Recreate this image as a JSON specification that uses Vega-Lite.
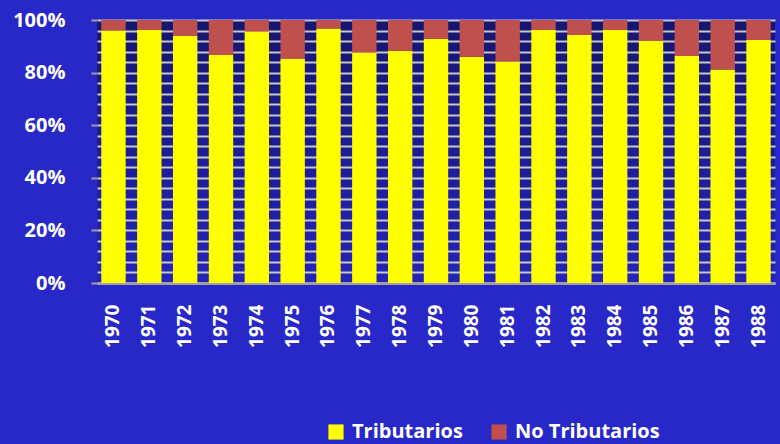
{
  "$schema": "https://vega.github.io/schema/vega-lite/v6.json",
  "width": 678,
  "height": 263,
  "autosize": "none",
  "padding": {"left": 97, "top": 20, "right": 5, "bottom": 161},
  "background": "#2828c8",
  "config": {
    "view": {"stroke": null, "fill": {"gradient": "linear", "x1": 0, "y1": 0, "x2": 0, "y2": 1, "stops": [{"offset": 0, "color": "#161670"}, {"offset": 1, "color": "#2424b8"}]}},
    "font": "Open Sans"
  },
  "data": {
    "values": [
      {"year": "1970", "serie": "Tributarios", "v": 96}, {"year": "1970", "serie": "No Tributarios", "v": 4},
      {"year": "1971", "serie": "Tributarios", "v": 96.2}, {"year": "1971", "serie": "No Tributarios", "v": 3.8},
      {"year": "1972", "serie": "Tributarios", "v": 93.9}, {"year": "1972", "serie": "No Tributarios", "v": 6.1},
      {"year": "1973", "serie": "Tributarios", "v": 86.7}, {"year": "1973", "serie": "No Tributarios", "v": 13.3},
      {"year": "1974", "serie": "Tributarios", "v": 95.6}, {"year": "1974", "serie": "No Tributarios", "v": 4.4},
      {"year": "1975", "serie": "Tributarios", "v": 85.4}, {"year": "1975", "serie": "No Tributarios", "v": 14.6},
      {"year": "1976", "serie": "Tributarios", "v": 96.8}, {"year": "1976", "serie": "No Tributarios", "v": 3.2},
      {"year": "1977", "serie": "Tributarios", "v": 87.6}, {"year": "1977", "serie": "No Tributarios", "v": 12.4},
      {"year": "1978", "serie": "Tributarios", "v": 88.3}, {"year": "1978", "serie": "No Tributarios", "v": 11.7},
      {"year": "1979", "serie": "Tributarios", "v": 92.8}, {"year": "1979", "serie": "No Tributarios", "v": 7.2},
      {"year": "1980", "serie": "Tributarios", "v": 86.0}, {"year": "1980", "serie": "No Tributarios", "v": 14.0},
      {"year": "1981", "serie": "Tributarios", "v": 84.2}, {"year": "1981", "serie": "No Tributarios", "v": 15.8},
      {"year": "1982", "serie": "Tributarios", "v": 96.2}, {"year": "1982", "serie": "No Tributarios", "v": 3.8},
      {"year": "1983", "serie": "Tributarios", "v": 94.3}, {"year": "1983", "serie": "No Tributarios", "v": 5.7},
      {"year": "1984", "serie": "Tributarios", "v": 96.2}, {"year": "1984", "serie": "No Tributarios", "v": 3.8},
      {"year": "1985", "serie": "Tributarios", "v": 92.1}, {"year": "1985", "serie": "No Tributarios", "v": 7.9},
      {"year": "1986", "serie": "Tributarios", "v": 86.3}, {"year": "1986", "serie": "No Tributarios", "v": 13.7},
      {"year": "1987", "serie": "Tributarios", "v": 81.2}, {"year": "1987", "serie": "No Tributarios", "v": 18.8},
      {"year": "1988", "serie": "Tributarios", "v": 92.4}, {"year": "1988", "serie": "No Tributarios", "v": 7.6}
    ]
  },
  "transform": [
    {"calculate": "datum.serie === 'Tributarios' ? 0 : 1", "as": "ord"}
  ],
  "mark": {"type": "bar"},
  "encoding": {
    "x": {
      "field": "year", "type": "ordinal", "title": null,
      "scale": {"paddingInner": 0.32, "paddingOuter": 0.12},
      "axis": {
        "labelAngle": -90, "labelAlign": "right", "labelBaseline": "middle",
        "labelColor": "white", "labelFont": "Open Sans", "labelFontWeight": "bold", "labelFontSize": 19,
        "labelPadding": 21, "ticks": false, "domainColor": "#a0a0a0", "domainWidth": 3
      }
    },
    "y": {
      "field": "v", "type": "quantitative", "stack": "normalize", "title": null,
      "scale": {"domain": [0, 1]},
      "axis": {
        "format": ".0%",
        "values": [0, 0.04, 0.08, 0.12, 0.16, 0.2, 0.24, 0.28, 0.32, 0.36, 0.4, 0.44, 0.48, 0.52, 0.56, 0.6, 0.64, 0.68, 0.72, 0.76, 0.8, 0.84, 0.88, 0.92, 0.96, 1],
        "labelExpr": "round(datum.value*100) % 20 === 0 ? datum.label : ''",
        "tickOpacity": {"condition": {"test": "round(datum.value*100) % 20 === 0", "value": 1}, "value": 0},
        "labelColor": "white", "labelFont": "Open Sans", "labelFontWeight": "bold", "labelFontSize": 20,
        "labelPadding": 26, "tickColor": "#a0a0a0", "tickSize": 6, "tickWidth": 2, "domain": false,
        "grid": true, "gridColor": "#c8c8c8", "gridWidth": 2, "gridOpacity": 1
      }
    },
    "color": {
      "field": "serie", "type": "nominal",
      "scale": {"domain": ["Tributarios", "No Tributarios"], "range": ["#ffff00", "#c0504d"]},
      "legend": {
        "title": null, "orient": "none", "direction": "horizontal",
        "legendX": 229, "legendY": 402,
        "symbolType": "square", "symbolSize": 230, "symbolStrokeWidth": 0, "symbolOpacity": 1,
        "labelColor": "white", "labelFont": "Open Sans", "labelFontWeight": "bold", "labelFontSize": 20,
        "columnPadding": 26, "labelOffset": 6
      }
    },
    "order": {"field": "ord", "type": "quantitative"}
  }
}
